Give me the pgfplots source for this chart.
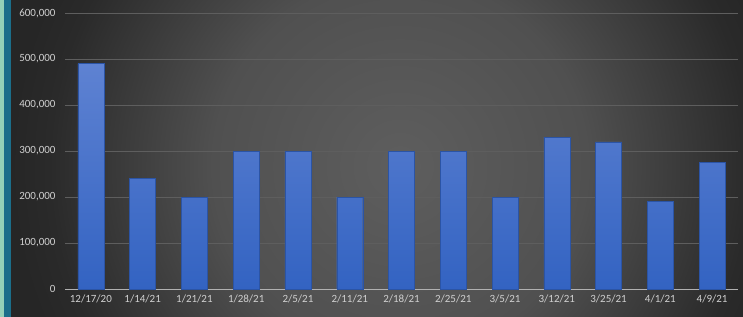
\documentclass[border=0pt]{standalone}
\usepackage{pgfplots}
\pgfplotsset{compat=1.18}
\usepackage{fontspec}
\setmainfont{Carlito}
\definecolor{bgout}{HTML}{262626}
\definecolor{mint}{HTML}{94D1B8}
\definecolor{tealstrip}{HTML}{1B6E8A}
\definecolor{bartop}{HTML}{5E82D2}
\definecolor{barbot}{HTML}{3363C2}
\definecolor{txt}{HTML}{D0D0D0}
\definecolor{gridc}{HTML}{5E5E5E}
\pgfdeclareradialshading{bgshade}{\pgfpoint{0bp}{0bp}}{%
  color(0bp)=(rgb,255:red,94;green,94;blue,94);
  color(12bp)=(rgb,255:red,80;green,80;blue,80);
  color(22.5bp)=(rgb,255:red,42;green,42;blue,42);
  color(25bp)=(rgb,255:red,38;green,38;blue,38);
  color(50bp)=(rgb,255:red,38;green,38;blue,38)}
\begin{document}
\begin{tikzpicture}[x=1pt,y=1pt]
\useasboundingbox (0,0) rectangle (743,316);
\begin{scope}
\clip (11,-5) rectangle (748,321);
\fill[bgout] (11,-5) rectangle (748,321);
\shade[shading=bgshade] (400,150) circle (390);
\end{scope}
\fill[mint] (-5,-5) rectangle (4,321);
\fill[tealstrip] (4,-5) rectangle (11,321);
\begin{axis}[
  at={(65pt,27pt)}, anchor=south west,
  scale only axis, width=673pt, height=276pt,
  xmin=-0.5, xmax=12.5, ymin=0, ymax=600000,
  scaled y ticks=false,
  xtick=data,
  xticklabels={12/17/20,1/14/21,1/21/21,1/28/21,2/5/21,2/11/21,2/18/21,2/25/21,3/5/21,3/12/21,3/25/21,4/1/21,4/9/21},
  ytick={0,100000,200000,300000,400000,500000,600000},
  yticklabels={0,{100,000},{200,000},{300,000},{400,000},{500,000},{600,000}},
  ymajorgrids, grid style={draw=gridc, line width=0.8pt},
  major tick length=0,
  axis x line*=bottom, axis y line*=left,
  x axis line style={draw=txt!85!black, line width=1pt, -},
  y axis line style={draw=none},
  ticklabel style={font=\fontsize{11}{13}\selectfont, text=txt},
  xticklabel style={yshift=-2pt},
  yticklabel style={xshift=-6pt},
  ybar, bar width=26pt,
]
\addplot[draw=barbot!85!black, line width=0.4pt, top color=bartop, bottom color=barbot] coordinates {
(0,490000) (1,240000) (2,200000) (3,300000) (4,300000) (5,200000) (6,300000)
(7,300000) (8,200000) (9,330000) (10,320000) (11,190000) (12,275000)};
\end{axis}
\end{tikzpicture}
\end{document}
